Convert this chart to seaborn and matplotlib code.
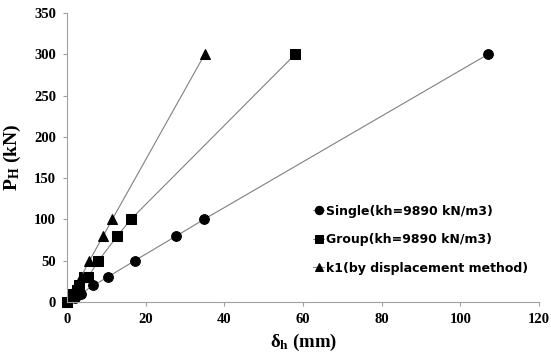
import matplotlib
matplotlib.use("Agg")
import matplotlib.pyplot as plt
import seaborn as sns
import pandas as pd

single_x = [0, 2.0, 3.5, 6.7, 10.3, 17.2, 27.8, 34.8, 107.0]
single_y = [0, 5, 10, 20, 30, 50, 80, 100, 300]
group_x = [0, 1.5, 2.5, 3.0, 4.3, 5.3, 8.0, 12.8, 16.2, 58.0]
group_y = [0, 10, 15, 20, 30, 30, 50, 80, 100, 300]
k1_x = [0, 1.2, 2.3, 3.5, 5.7, 9.2, 11.5, 35.0]
k1_y = [0, 10, 20, 30, 50, 80, 100, 300]

labels = ["Single(kh=9890 kN/m3)", "Group(kh=9890 kN/m3)", "k1(by displacement method)"]
markers = ["o", "s", "^"]
xticks = [0, 20, 40, 60, 80, 100, 120]
yticks = [0, 50, 100, 150, 200, 250, 300, 350]

sns.set_theme(style="white")
plt.rcParams['font.family'] = ['DejaVu Sans']
plt.rcParams['text.color'] = 'black'
plt.rcParams['mathtext.fontset'] = 'custom'
plt.rcParams['mathtext.rm'] = 'Liberation Serif:bold'
plt.rcParams['mathtext.it'] = 'Liberation Serif:bold'
plt.rcParams['mathtext.bf'] = 'Liberation Serif:bold'

fig = plt.figure(figsize=(5.51, 3.53), dpi=100)
ax = fig.add_axes([0.1216, 0.1445, 0.8567, 0.8185])

series = [(single_x, single_y), (group_x, group_y), (k1_x, k1_y)]
for (xs, ys), lab, mk in zip(series, labels, markers):
    df = pd.DataFrame({"x": xs, "y": ys})
    sns.lineplot(data=df, x="x", y="y", ax=ax, color="#808080", linewidth=0.8,
                 marker=mk, markersize=7, markerfacecolor="black",
                 markeredgecolor="black", label=lab, sort=False, clip_on=False)

ax.set_xlim(0, 120)
ax.set_ylim(0, 350)
tickfont = {"family": "Liberation Serif", "weight": "bold", "size": 10.5, "color": "black"}
ax.set_xticks(xticks)
ax.set_xticklabels([str(v) for v in xticks], fontdict=tickfont)
ax.set_yticks(yticks)
ax.set_yticklabels([str(v) for v in yticks], fontdict=tickfont)
for sp in ["top", "right"]:
    ax.spines[sp].set_visible(False)
for sp in ["left", "bottom"]:
    ax.spines[sp].set_color("#A0A0A0")
    ax.spines[sp].set_linewidth(0.8)
ax.tick_params(axis="both", which="both", direction="out", length=3, width=0.8,
               color="#A0A0A0", bottom=True, left=True, pad=5)

ax.set_xlabel(r"$\delta_\mathbf{h}$ (mm)", fontfamily="Liberation Serif",
              fontweight="bold", fontsize=13.5, labelpad=4, color="black")
ax.set_ylabel(r"$\mathbf{P_H}$ (kN)", fontfamily="Liberation Serif",
              fontweight="bold", fontsize=14, labelpad=8, color="black")

leg = ax.legend(loc="lower right", bbox_to_anchor=(1.0, 0.055), frameon=False,
                handlelength=0.9, handletextpad=0.1, labelspacing=1.25,
                prop={"family": "DejaVu Sans", "weight": "bold", "size": 9})
for h in leg.legend_handles:
    h.set_markersize(6)
for t in leg.get_texts():
    t.set_color("black")

fig.savefig("out.png", dpi=100)
